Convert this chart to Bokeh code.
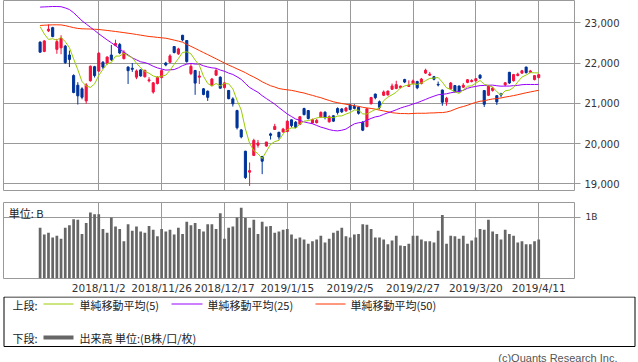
import numpy as np
import pandas as pd
from bokeh.plotting import figure
from bokeh.layouts import column
from bokeh.models import Range1d, FixedTicker, NumeralTickFormatter, Label, ColumnDataSource
from bokeh.embed import file_html
from bokeh.resources import INLINE

dates = [
    "2018/10/15", "2018/10/16", "2018/10/17", "2018/10/18", "2018/10/19", "2018/10/22", "2018/10/23",
    "2018/10/24", "2018/10/25", "2018/10/26", "2018/10/29", "2018/10/30", "2018/10/31",
    "2018/11/1", "2018/11/2", "2018/11/5", "2018/11/6", "2018/11/7", "2018/11/8", "2018/11/9",
    "2018/11/12", "2018/11/13", "2018/11/14", "2018/11/15", "2018/11/16", "2018/11/19", "2018/11/20",
    "2018/11/21", "2018/11/22", "2018/11/26", "2018/11/27", "2018/11/28", "2018/11/29", "2018/11/30",
    "2018/12/3", "2018/12/4", "2018/12/5", "2018/12/6", "2018/12/7", "2018/12/10", "2018/12/11",
    "2018/12/12", "2018/12/13", "2018/12/14", "2018/12/17", "2018/12/18", "2018/12/19", "2018/12/20",
    "2018/12/21", "2018/12/25", "2018/12/26", "2018/12/27", "2018/12/28",
    "2019/1/4", "2019/1/7", "2019/1/8", "2019/1/9", "2019/1/10", "2019/1/11", "2019/1/15",
    "2019/1/16", "2019/1/17", "2019/1/18", "2019/1/21", "2019/1/22", "2019/1/23", "2019/1/24",
    "2019/1/25", "2019/1/28", "2019/1/29", "2019/1/30", "2019/1/31",
    "2019/2/1", "2019/2/4", "2019/2/5", "2019/2/6", "2019/2/7", "2019/2/8", "2019/2/12",
    "2019/2/13", "2019/2/14", "2019/2/15", "2019/2/18", "2019/2/19", "2019/2/20", "2019/2/21",
    "2019/2/22", "2019/2/25", "2019/2/26", "2019/2/27", "2019/2/28",
    "2019/3/1", "2019/3/4", "2019/3/5", "2019/3/6", "2019/3/7", "2019/3/8", "2019/3/11",
    "2019/3/12", "2019/3/13", "2019/3/14", "2019/3/15", "2019/3/18", "2019/3/19", "2019/3/20",
    "2019/3/22", "2019/3/25", "2019/3/26", "2019/3/27", "2019/3/28", "2019/3/29",
    "2019/4/1", "2019/4/2", "2019/4/3", "2019/4/4", "2019/4/5", "2019/4/8", "2019/4/9",
    "2019/4/10", "2019/4/11",
]

open_ = [
    22520, 22290, 22800, 22880, 22340, 22380, 22420, 22200, 21690, 21450,
    21360, 21060, 21560, 21910, 21800, 22020, 22000, 22200, 22440, 22460,
    22110, 21900, 21870, 21650, 21830, 21660, 21560, 21280, 21490, 21640,
    22000, 22020, 22410, 22230, 22690, 22560, 21740, 21815, 21650, 21360,
    21300, 21440, 21700, 21650, 21390, 21320, 21110, 20820, 20340, 19810,
    19290, 19706, 19960, 19680, 19940, 20240, 20350, 20280, 20290, 20300,
    20590, 20530, 20480, 20870, 20820, 20510, 20520, 20660, 20780, 20540,
    20690, 20870, 20860, 20810, 20960, 20920, 20900, 20530, 20424, 20990,
    21230, 21040, 21200, 21210, 21350, 21370, 21390, 21590, 21420, 21490,
    21540, 21490, 21750, 21700, 21660, 21470, 21330, 21030, 21360, 21440,
    21430, 21400, 21520, 21540, 21560, 21700, 21316, 21200, 21320, 21190,
    21230, 21460, 21770, 21560, 21690, 21750, 21900, 21770, 21590, 21640,
]

high = [
    22540, 22570, 22960, 22900, 22600, 22690, 22450, 22310, 21720, 21525,
    21400, 21500, 21940, 21930, 22270, 22050, 22170, 22450, 22580, 22500,
    22320, 21920, 22000, 21840, 21850, 21830, 21650, 21530, 21670, 21820,
    22030, 22220, 22420, 22380, 22700, 22570, 21980, 21830, 21800, 21380,
    21320, 21630, 21870, 21670, 21530, 21330, 21150, 20840, 20360, 19820,
    19530, 20120, 20090, 19690, 20040, 20270, 20490, 20290, 20390, 20580,
    20600, 20560, 20680, 20890, 20830, 20620, 20610, 20800, 20800, 20700,
    20700, 20900, 20880, 20910, 20990, 20980, 20920, 20560, 20880, 21160,
    21240, 21070, 21320, 21320, 21490, 21560, 21440, 21610, 21570, 21590,
    21560, 21630, 21860, 21780, 21680, 21540, 21340, 21160, 21530, 21450,
    21440, 21500, 21600, 21600, 21630, 21720, 21330, 21450, 21410, 21200,
    21260, 21530, 21780, 21730, 21760, 21830, 21910, 21830, 21700, 21730,
]

low = [
    22260, 22270, 22770, 22640, 22230, 22220, 21980, 21900, 21250, 20970,
    21100, 20990, 21540, 21640, 21780, 21850, 21960, 22050, 22420, 22220,
    22090, 21480, 21780, 21600, 21660, 21640, 21520, 21240, 21470, 21620,
    21920, 22000, 22240, 22200, 22540, 22010, 21700, 21210, 21480, 21200,
    21060, 21420, 21680, 21370, 21370, 21100, 20920, 20350, 20130, 19120,
    18948, 19690, 19900, 19240, 19920, 20100, 20340, 20100, 20270, 20280,
    20400, 20380, 20460, 20700, 20600, 20490, 20500, 20640, 20600, 20520,
    20540, 20720, 20760, 20790, 20830, 20850, 20720, 20310, 20400, 20970,
    21100, 20850, 21180, 21190, 21330, 21350, 21370, 21500, 21420, 21470,
    21350, 21470, 21730, 21680, 21570, 21420, 20940, 20940, 21340, 21260,
    21270, 21380, 21500, 21520, 21540, 21600, 20910, 21180, 21290, 20960,
    21150, 21420, 21480, 21540, 21670, 21730, 21740, 21750, 21570, 21620,
]

close = [
    22271, 22549, 22841, 22658, 22532, 22615, 22011, 22091, 21269, 21185,
    21150, 21457, 21920, 21688, 22244, 21899, 22148, 22086, 22487, 22250,
    22270, 21811, 21846, 21804, 21680, 21821, 21583, 21508, 21647, 21812,
    21952, 22177, 22263, 22351, 22575, 22036, 21919, 21502, 21679, 21220,
    21148, 21603, 21816, 21375, 21507, 21115, 20988, 20393, 20166, 19156,
    19327, 20078, 20015, 19562, 20039, 20204, 20427, 20164, 20360, 20555,
    20443, 20402, 20666, 20719, 20623, 20594, 20575, 20774, 20649, 20665,
    20557, 20773, 20788, 20884, 20844, 20874, 20751, 20333, 20864, 21144,
    21140, 20901, 21282, 21303, 21431, 21464, 21426, 21528, 21449, 21557,
    21385, 21603, 21822, 21726, 21597, 21456, 21026, 21125, 21504, 21290,
    21287, 21451, 21585, 21567, 21609, 21627, 20977, 21428, 21378, 21034,
    21206, 21509, 21505, 21713, 21725, 21808, 21762, 21803, 21688, 21711,
]

# volume, billions of shares
volume = [
    0.83, 0.72, 0.75, 0.67, 0.70, 0.65, 0.83, 0.87, 0.97, 0.96,
    0.73, 0.91, 1.08, 1.05, 1.05, 0.81, 0.75, 1.00, 0.85, 0.81,
    0.61, 0.89, 0.78, 0.85, 0.77, 0.75, 0.86, 0.80, 0.69, 0.81,
    0.77, 0.80, 0.72, 0.83, 0.73, 0.93, 0.87, 0.91, 0.81, 0.77,
    0.89, 0.89, 0.81, 1.07, 0.65, 0.83, 0.85, 1.00, 1.16, 0.99,
    0.83, 0.96, 0.73, 0.93, 0.85, 0.86, 0.75, 0.77, 0.80, 0.81,
    0.72, 0.65, 0.67, 0.64, 0.57, 0.61, 0.64, 0.70, 0.59, 0.65,
    0.75, 0.78, 0.83, 0.69, 0.67, 0.72, 0.73, 0.89, 0.88, 0.81,
    0.67, 0.67, 0.64, 0.56, 0.62, 0.70, 0.54, 0.53, 0.57, 0.70,
    0.70, 0.64, 0.61, 0.61, 0.59, 0.78, 1.04, 0.57, 0.70, 0.69,
    0.65, 0.70, 0.57, 0.62, 0.67, 0.81, 0.80, 0.96, 0.77, 0.73,
    0.64, 0.80, 0.73, 0.70, 0.59, 0.61, 0.56, 0.56, 0.61, 0.64,
]

# moving-average values for sessions lacking enough history
ma5_head = [22906, 22722, 22589, 22603]
ma25_head = [
    23390, 23395, 23400, 23405, 23405, 23400, 23370, 23330, 23250, 23150,
    23050, 22970, 22890, 22810, 22727, 22650, 22575, 22505, 22430, 22350,
    22270, 22200, 22130, 22080,
]
ma50_head = [
    22933, 22940, 22945, 22950, 22950, 22948, 22930, 22905, 22880, 22860,
    22851, 22848, 22845, 22840, 22834, 22822, 22810, 22797, 22784, 22770,
    22756, 22741, 22727, 22710, 22693, 22676, 22660, 22650, 22638, 22627,
    22617, 22595, 22570, 22545, 22518, 22465, 22415, 22365, 22312, 22260,
    22210, 22158, 22106, 22053, 22000, 21950, 21905, 21855, 21810,
]

price_ticks = [19000, 20000, 21000, 22000, 23000]
tick_labels = ["2018/11/2", "2018/11/26", "2018/12/17", "2019/1/15",
               "2019/2/5", "2019/2/27", "2019/3/20", "2019/4/11"]

# ---------------------------------------------------------------
n = len(dates)
idx = np.arange(n)
tick_idx = [dates.index(t) for t in tick_labels]

s = pd.Series(close, dtype=float)
ma5 = np.concatenate([ma5_head, s.rolling(5).mean().dropna().to_numpy()])
ma25 = np.concatenate([ma25_head, s.rolling(25).mean().dropna().to_numpy()])
ma50 = np.concatenate([ma50_head, s.rolling(50).mean().dropna().to_numpy()])

UP = "#f5123f"
DOWN = "#003399"
GRID = "#999999"
colors = [UP if c >= o else DOWN for o, c in zip(open_, close)]

src = ColumnDataSource(dict(
    x=idx, open=open_, high=high, low=low, close=close,
    top=np.maximum(open_, close), bottom=np.minimum(open_, close),
    color=colors, vol=volume, ma5=ma5, ma25=ma25, ma50=ma50,
))

W = 638
xr = Range1d(-8.735, 127.54)

# ---------------- price panel ----------------
p1 = figure(width=W, height=201, x_range=xr, y_range=Range1d(18834, 23554),
            output_backend="svg", toolbar_location=None,
            x_axis_location=None, y_axis_location="right",
            min_border_left=3, min_border_right=64, min_border_top=0, min_border_bottom=11)
p1.outline_line_color = GRID
p1.xgrid.ticker = FixedTicker(ticks=tick_idx)
p1.ygrid.ticker = FixedTicker(ticks=price_ticks)
p1.grid.grid_line_color = GRID
p1.grid.grid_line_width = 1

ya = p1.yaxis[0]
ya.ticker = FixedTicker(ticks=price_ticks)
ya.formatter = NumeralTickFormatter(format="0,0")
ya.major_tick_out = 6
ya.major_tick_in = 0
ya.minor_tick_out = 0
ya.minor_tick_in = 0
ya.axis_line_color = None
ya.major_tick_line_color = GRID
ya.major_label_standoff = 4
ya.major_label_text_font = "DejaVu Sans"
ya.major_label_text_font_size = "10px"
ya.major_label_text_color = "#333333"

p1.segment(x0="x", y0="low", x1="x", y1="high", line_color="color", line_width=1, source=src)
p1.vbar(x="x", width=0.5, top="top", bottom="bottom", fill_color="color",
        line_color="color", line_width=1, source=src)
p1.line(x="x", y="ma50", line_color="#ff3300", line_width=1, source=src)
p1.line(x="x", y="ma25", line_color="#9900ff", line_width=1, source=src)
p1.line(x="x", y="ma5", line_color="#99cc00", line_width=1, source=src)

# ---------------- volume panel ----------------
p2 = figure(width=W, height=95, x_range=xr, y_range=Range1d(0, 1.244),
            output_backend="svg", toolbar_location=None,
            y_axis_location="right",
            min_border_left=3, min_border_right=64, min_border_top=1, min_border_bottom=16)
p2.outline_line_color = GRID
p2.xgrid.ticker = FixedTicker(ticks=tick_idx)
p2.ygrid.ticker = FixedTicker(ticks=[1])
p2.grid.grid_line_color = GRID

xa = p2.xaxis[0]
xa.ticker = FixedTicker(ticks=tick_idx)
xa.major_label_overrides = {i: t for i, t in zip(tick_idx, tick_labels)}
xa.major_tick_out = 0
xa.major_tick_in = 0
xa.minor_tick_out = 0
xa.minor_tick_in = 0
xa.axis_line_color = None
xa.major_label_standoff = 3
xa.major_label_text_font = "DejaVu Sans"
xa.major_label_text_font_size = "10.5px"
xa.major_label_text_color = "#333333"

va = p2.yaxis[0]
va.ticker = FixedTicker(ticks=[1])
va.major_label_overrides = {1: "1B"}
va.major_tick_out = 6
va.major_tick_in = 0
va.minor_tick_out = 0
va.minor_tick_in = 0
va.axis_line_color = None
va.major_tick_line_color = GRID
va.major_label_standoff = 5
va.major_label_text_font = "DejaVu Sans"
va.major_label_text_font_size = "9px"
va.major_label_text_color = "#333333"

p2.vbar(x="x", width=0.65, top="vol", bottom=0, fill_color="#666666",
        line_color=None, source=src)
p2.add_layout(Label(x=-7.5, y=1.196, text="単位: B", text_baseline="top",
                    text_font="Noto Sans CJK JP", text_font_size="11px",
                    text_color="#222222"))

# ---------------- legend panel ----------------
LH = 66
p3 = figure(width=W, height=LH, x_range=Range1d(0, W), y_range=Range1d(LH, 0),
            output_backend="svg", toolbar_location=None,
            x_axis_location=None, y_axis_location=None,
            min_border_left=0, min_border_right=0, min_border_top=0, min_border_bottom=0)
p3.frame_align = False
p3.outline_line_color = None
p3.grid.visible = False
p3.quad(left=3.5, right=634.5, top=0.5, bottom=50.0, fill_color=None,
        line_color="black", line_width=1)

row1, row2 = 7.5, 41.0
p3.segment(x0=[43, 171, 315], x1=[73, 202, 345], y0=[row1] * 3, y1=[row1] * 3,
           line_color=["#99cc00", "#9900ff", "#ff3300"], line_width=1)
p3.segment(x0=[43], x1=[73], y0=[row2], y1=[row2], line_color="#666666", line_width=4)

legend_texts = [
    (12, row1 + 1, "上段:"),
    (79, row1 + 1, "単純移動平均(5)"),
    (207, row1 + 1, "単純移動平均(25)"),
    (350, row1 + 1, "単純移動平均(50)"),
    (12, row2, "下段:"),
    (79, row2, "出来高 単位:(B株/口/枚)"),
]
for x, y, t in legend_texts:
    p3.add_layout(Label(x=x, y=y, text=t, text_baseline="middle",
                        text_font="Noto Sans CJK JP", text_font_size="11px",
                        text_color="#222222"))

p3.add_layout(Label(x=617, y=61, text="(c)Quants Research Inc.", text_align="right",
                    text_baseline="middle", text_font="Liberation Sans",
                    text_font_size="11px", text_color="#555555"))

layout = column(p1, p2, p3, spacing=0)

open("out.html", "w").write(file_html(layout, INLINE))
